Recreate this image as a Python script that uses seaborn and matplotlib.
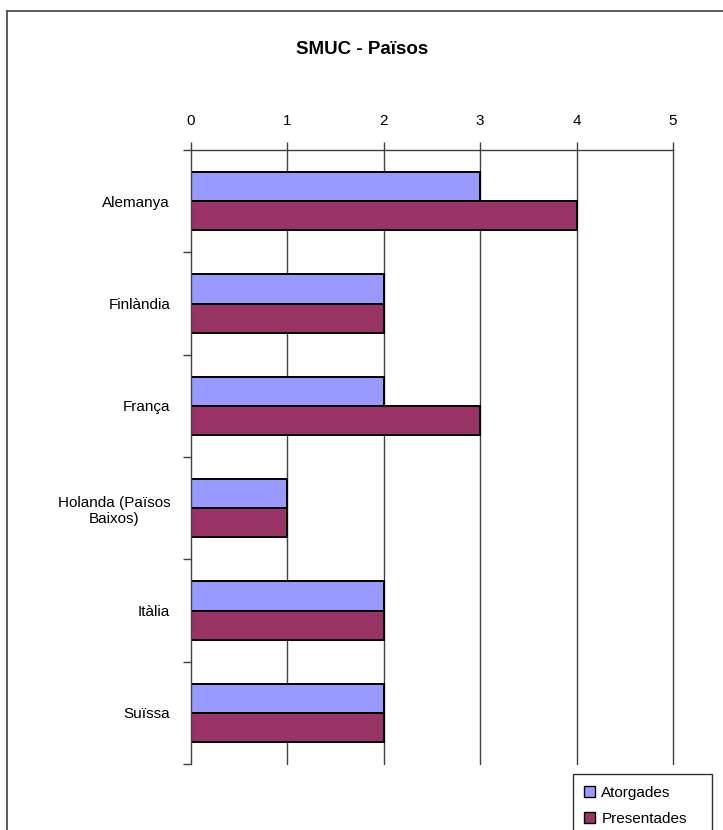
import seaborn as sns
import matplotlib.pyplot as plt
from matplotlib.lines import Line2D
import pandas as pd
import numpy as np

countries = ["Alemanya", "Finlàndia", "França", "Holanda (Països\nBaixos)", "Itàlia", "Suïssa"]
atorgades = [3, 2, 2, 1, 2, 2]
presentades = [4, 2, 3, 1, 2, 2]
series = ["Atorgades", "Presentades"]
colors = ["#9999FF", "#993366"]
x_ticks = [0, 1, 2, 3, 4, 5]

df = pd.DataFrame({
    "country": countries * 2,
    "value": atorgades + presentades,
    "serie": [series[0]] * len(countries) + [series[1]] * len(countries),
})

sns.set_theme(style="white")
plt.rcParams["font.family"] = ["Liberation Sans", "DejaVu Sans"]
plt.rcParams["text.color"] = "black"

fig = plt.figure(figsize=(7.23, 8.30), dpi=100)
ax = fig.add_axes([191 / 723, 1 - 764 / 830, 482 / 723, 614 / 830])

sns.barplot(
    data=df, y="country", x="value", hue="serie", order=countries,
    hue_order=series, palette=colors, orient="h", width=0.57,
    edgecolor="black", linewidth=1.4, saturation=1, ax=ax, legend=False,
)

ax.set_xlim(0, 5)
ax.set_ylim(len(countries) - 0.5, -0.5)
ax.set_xticks(x_ticks)
ax.set_xticklabels([str(t) for t in x_ticks], fontsize=11)
ax.xaxis.tick_top()
ax.tick_params(axis="x", length=6, width=1, color="#404040", pad=10, labelcolor="black")
for t in x_ticks[1:]:
    ax.axvline(t, color="#404040", linewidth=1, zorder=0, clip_on=False)

ax.set_yticks(range(len(countries)))
ax.set_yticklabels(countries, fontsize=11, ha="right", multialignment="center")
ax.tick_params(axis="y", length=0, pad=15, labelcolor="black")
ax.set_yticks(np.arange(-0.5, len(countries), 1), minor=True)
ax.tick_params(axis="y", which="minor", length=6, width=1, color="#404040", left=True)
ax.set_xlabel("")
ax.set_ylabel("")

for side in ["right", "bottom"]:
    ax.spines[side].set_visible(False)
for side in ["top", "left"]:
    ax.spines[side].set_color("#404040")
    ax.spines[side].set_linewidth(1)
ax.grid(False)

fig.text(362 / 723, 1 - 50 / 830, "SMUC - Països", ha="center", va="center",
         fontsize=13.5, fontweight="bold", color="black")

# outer chart border (cropped at right and bottom)
fig.add_artist(Line2D([7 / 723, 7 / 723], [0, 1 - 11 / 830], transform=fig.transFigure,
                      color="#404040", linewidth=1.2))
fig.add_artist(Line2D([7 / 723, 1], [1 - 11 / 830, 1 - 11 / 830], transform=fig.transFigure,
                      color="#404040", linewidth=1.2))

handles = [plt.Rectangle((0, 0), 1, 1, facecolor=c, edgecolor="black", linewidth=1) for c in colors]
leg = fig.legend(handles, series, loc="upper left",
                 bbox_to_anchor=(573 / 723, 1 - 775 / 830, 139 / 723, 0.001), mode="expand",
                 frameon=True, fancybox=False, fontsize=11, handlelength=0.7,
                 handleheight=0.7, handletextpad=0.4, borderpad=0.75, labelspacing=0.8,
                 borderaxespad=0)
leg.get_frame().set_edgecolor("black")
leg.get_frame().set_linewidth(1)

fig.savefig("out.png", dpi=100)
